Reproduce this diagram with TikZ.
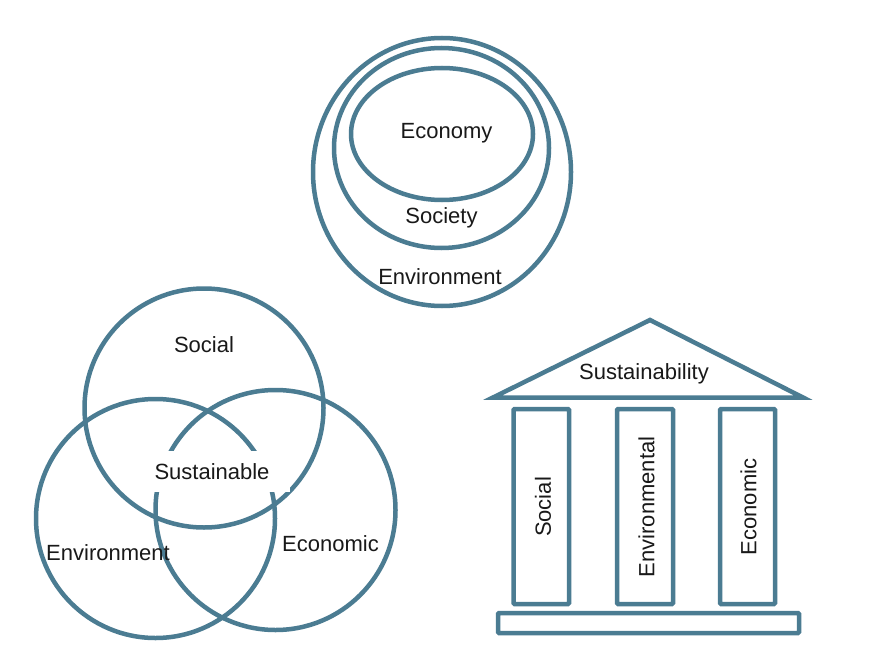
\documentclass[tikz,border=0pt]{standalone}
\usepackage{fontspec}
\setmainfont{Liberation Sans}
\definecolor{steel}{HTML}{4B7C92}
\begin{document}
\begin{tikzpicture}[x=1pt,y=-1pt,
  ln/.style={draw=steel,line width=4.5pt},
  lbl/.style={font=\fontsize{22}{26}\selectfont,text=black!90,inner sep=0pt},
  column/.style={ln,rounded corners=1pt}]
\useasboundingbox[fill=white] (0,0) rectangle (880,663);
% nested ellipses
\draw[ln] (442,172) ellipse [x radius=129, y radius=134];
\draw[ln] (441.5,148) ellipse [x radius=107.5, y radius=100];
\draw[ln] (442,134) ellipse [x radius=91, y radius=66];
\node[lbl] (economy) at (446.5,133.5) {Economy};
\node[lbl] (society) at (441.5,218) {Society};
\node[lbl] (environment) at (440,276.5) {Environment};
% Venn
\draw[ln] (204,408) circle [radius=119.5];
\draw[ln] (155.5,518.5) circle [radius=119.5];
\draw[ln] (275.5,510) circle [radius=120];
\node[lbl,fill=white,minimum width=156pt,minimum height=41pt] (sust) at (212,471.5) {Sustainable};
\node[lbl] (social) at (204,344.5) {Social};
\node[lbl] (venv) at (108,553) {Environment};
\node[lbl] (vecon) at (330.5,544) {Economic};
% temple
\draw[ln] (493,397.5) -- (650,320) -- (803,397.5) -- cycle;
\node[lbl] (sustainability) at (644,374) {Sustainability};
\draw[column] (513.5,409) rectangle (569,604);
\draw[column] (617,409) rectangle (673,604);
\draw[column] (720,409) rectangle (775,604);
\draw[column] (498,613) rectangle (799,633);
\node[lbl,rotate=90] (csocial) at (543,507) {Social};
\node[lbl,rotate=90] (cenv) at (646.5,507) {Environmental};
\node[lbl,rotate=90] (cecon) at (748.5,507) {Economic};
\end{tikzpicture}
\end{document}
